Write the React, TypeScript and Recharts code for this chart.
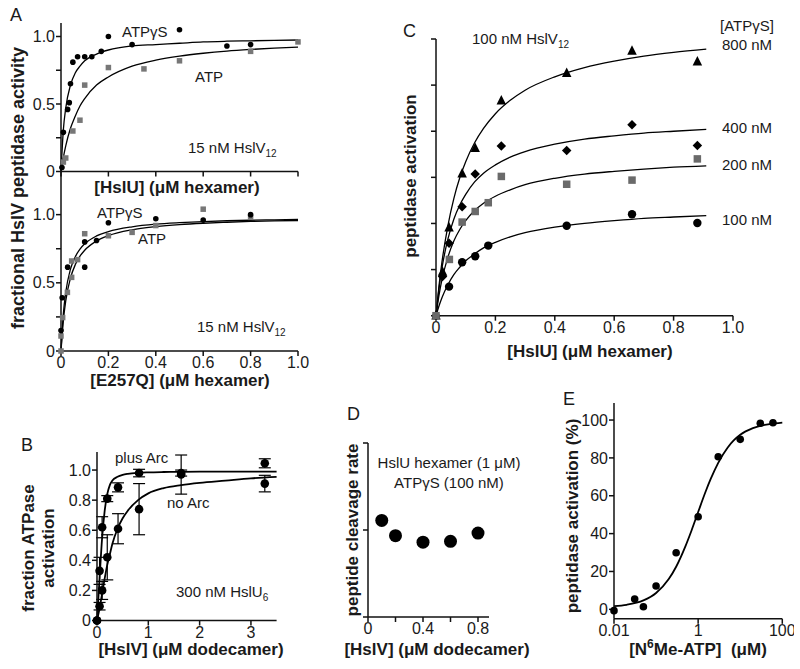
import { ComposedChart, Scatter, Line, XAxis, YAxis, ErrorBar } from 'recharts'

const FONT = '"Liberation Sans", Arial, Helvetica, sans-serif'

// ---- panel A, top: [HslU] ----
const aTopGsX = [0.004, 0.01, 0.028, 0.035, 0.04, 0.05, 0.07, 0.1, 0.13, 0.17, 0.2, 0.3, 0.5, 0.7, 0.8]
const aTopGsY = [0.03, 0.29, 0.46, 0.51, 0.65, 0.81, 0.85, 0.85, 0.85, 0.89, 1.0, 0.94, 1.05, 0.93, 0.94]
const aTopAtpX = [0.01, 0.02, 0.05, 0.08, 0.1, 0.2, 0.35, 0.5, 0.8, 1.0]
const aTopAtpY = [0.07, 0.1, 0.3, 0.38, 0.64, 0.77, 0.76, 0.82, 0.89, 0.96]
const aFitX = [0, 0.01, 0.02, 0.04, 0.06, 0.08, 0.1, 0.15, 0.2, 0.3, 0.4, 0.5, 0.6, 0.7, 0.8, 0.9, 1.0]
const aTopFitGs = [0, 0.31, 0.47, 0.64, 0.73, 0.78, 0.82, 0.87, 0.9, 0.93, 0.94, 0.95, 0.96, 0.965, 0.968, 0.971, 0.974]
const aTopFitAtp = [0, 0.105, 0.19, 0.32, 0.41, 0.485, 0.54, 0.64, 0.7, 0.78, 0.825, 0.855, 0.876, 0.892, 0.904, 0.914, 0.922]

// ---- panel A, bottom: [E257Q] ----
const aBotGsX = [0, 0.005, 0.028, 0.1, 0.1, 0.15, 0.2, 0.4, 0.6, 0.8]
const aBotGsY = [0.15, 0.39, 0.615, 0.8, 0.615, 0.81, 0.94, 0.97, 0.96, 1.0]
const aBotAtpX = [0, 0, 0.007, 0.027, 0.045, 0.045, 0.07, 0.1, 0.2, 0.3, 0.4, 0.6, 0.8]
const aBotAtpY = [0, 0.11, 0.245, 0.43, 0.54, 0.66, 0.67, 0.86, 0.845, 0.87, 0.92, 1.04, 0.98]
const aBotFitGs = [0, 0.275, 0.43, 0.6, 0.69, 0.747, 0.786, 0.844, 0.876, 0.911, 0.93, 0.941, 0.949, 0.955, 0.959, 0.962, 0.965]
const aBotFitAtp = [0, 0.225, 0.367, 0.535, 0.632, 0.695, 0.739, 0.807, 0.846, 0.889, 0.912, 0.927, 0.937, 0.944, 0.95, 0.954, 0.957]

// ---- panel C ----
const c800X = [0, 0.022, 0.044, 0.088, 0.132, 0.22, 0.44, 0.66, 0.88]
const c800Y = [0, 0.95, 1.91, 3.08, 3.63, 4.66, 5.26, 5.74, 5.51]
const c400X = [0, 0.022, 0.044, 0.088, 0.132, 0.22, 0.44, 0.66, 0.88]
const c400Y = [0, 0.85, 1.57, 2.36, 3.07, 3.68, 3.58, 4.14, 3.69]
const c200X = [0, 0.045, 0.088, 0.132, 0.176, 0.22, 0.44, 0.66, 0.88]
const c200Y = [0, 1.22, 2.03, 2.26, 2.45, 3.02, 2.85, 2.94, 3.4]
const c100X = [0.044, 0.088, 0.132, 0.176, 0.44, 0.66, 0.88]
const c100Y = [0.63, 1.16, 1.29, 1.52, 1.95, 2.2, 2.01]
const cFitX = [0, 0.01, 0.02, 0.04, 0.06, 0.08, 0.1, 0.13, 0.16, 0.2, 0.25, 0.3, 0.4, 0.5, 0.6, 0.7, 0.8, 0.91]
const c800Fit = [0, 0.64, 1.16, 1.95, 2.54, 2.99, 3.34, 3.75, 4.06, 4.38, 4.67, 4.89, 5.18, 5.38, 5.52, 5.63, 5.71, 5.78]
const c400Fit = [0, 0.58, 1.03, 1.66, 2.09, 2.4, 2.63, 2.9, 3.09, 3.27, 3.44, 3.56, 3.72, 3.83, 3.9, 3.96, 4.0, 4.04]
const c200Fit = [0, 0.44, 0.78, 1.27, 1.62, 1.87, 2.06, 2.28, 2.44, 2.59, 2.73, 2.84, 2.98, 3.07, 3.13, 3.18, 3.22, 3.25]
const c100Fit = [0, 0.21, 0.39, 0.67, 0.89, 1.05, 1.19, 1.34, 1.47, 1.59, 1.71, 1.8, 1.92, 2.0, 2.06, 2.11, 2.14, 2.17]

// ---- panel B ----
const bX = [0, 0.05, 0.1, 0.2, 0.41, 0.82, 1.64, 3.27]
const bPlusY = [0, 0.33, 0.62, 0.81, 0.885, 0.98, 0.98, 1.045]
const bPlusErr = [0, 0.09, 0.07, 0.02, 0.03, 0.025, 0.02, 0.03]
const bNoY = [0, 0.095, 0.2, 0.42, 0.61, 0.74, 0.97, 0.91]
const bNoErr = [0, 0.025, 0.06, 0.15, 0.1, 0.17, 0.13, 0.055]
const bFitX = [0, 0.025, 0.05, 0.1, 0.15, 0.2, 0.25, 0.3, 0.4, 0.5, 0.6, 0.8, 1.0, 1.3, 1.64, 2.0, 2.5, 3.0, 3.5]
const bPlusFit = [0, 0.14, 0.28, 0.55, 0.73, 0.84, 0.9, 0.93, 0.955, 0.968, 0.975, 0.982, 0.985, 0.987, 0.988, 0.989, 0.99, 0.99, 0.99]
const bNoFit = [0, 0.04, 0.08, 0.18, 0.28, 0.37, 0.44, 0.51, 0.61, 0.68, 0.73, 0.8, 0.845, 0.88, 0.9, 0.915, 0.93, 0.945, 0.955]

// ---- panel D ----
const dX = [0.1, 0.2, 0.4, 0.6, 0.8]
const dY = [1.11, 0.935, 0.86, 0.87, 0.965]

// ---- panel E ----
const eX = [0.01, 0.031, 0.05, 0.1, 0.3, 1.0, 3.0, 10, 30, 60]
const eY = [-0.7, 5.4, 1.4, 12.3, 29.9, 48.9, 80.6, 89.8, 98.3, 98.6]
const eFitX = [0.01, 0.02, 0.05, 0.1, 0.2, 0.3, 0.5, 0.7, 1, 1.5, 2, 3, 5, 7, 10, 20, 50, 100]
const eFit = [1.7, 2.4, 4.7, 8.6, 16, 22.5, 33.4, 41.8, 51.4, 62.1, 69, 77.4, 85.4, 89.2, 92.2, 95.7, 97.8, 98.6]

const pts = (xs: number[], ys: number[], es?: number[]) =>
  xs.map((x, i) => (es ? { x, y: ys[i], e: es[i] } : { x, y: ys[i] }))

const tickStyle = { fontSize: 16, fill: '#1a1a1a', fontFamily: FONT }
const one = (v: number) => (v === 0 ? '0' : v.toFixed(1))

type Box = { l: number; r: number; t: number; b: number }

function Plot({ box, xDomain, yDomain, xTicks, yTicks, xFmt, yFmt, xLog, children }: any) {
  const YW = 48, XH = 30, P = 12
  const b: Box = box
  return (
    <div style={{ position: 'absolute', left: b.l - YW, top: b.t - P }}>
      <ComposedChart
        width={b.r - b.l + YW + P}
        height={b.b - b.t + P + XH}
        margin={{ top: P, right: P, bottom: 0, left: 0 }}
      >
        <XAxis
          type="number" dataKey="x" scale={xLog ? 'log' : 'auto'} domain={xDomain} ticks={xTicks}
          tickFormatter={xFmt} interval={0} height={XH} stroke="#111" strokeWidth={1.5}
          tickSize={5} tickMargin={1} tick={tickStyle}
        />
        <YAxis
          type="number" dataKey="y" domain={yDomain} ticks={yTicks} tickFormatter={yFmt}
          interval={0} width={YW} stroke="#111" strokeWidth={1.5} tickSize={5} tickMargin={1} tick={tickStyle}
        />
        {children}
      </ComposedChart>
    </div>
  )
}

const dot = (r: number, fill = '#000') => (p: any) => <circle cx={p.cx} cy={p.cy} r={r} fill={fill} />
const square = (s: number, fill: string) => (p: any) => (
  <rect x={p.cx - s / 2} y={p.cy - s / 2} width={s} height={s} fill={fill} />
)
const triangle = (s: number) => (p: any) => (
  <polygon points={`${p.cx},${p.cy - s * 0.6} ${p.cx - s / 2},${p.cy + s * 0.4} ${p.cx + s / 2},${p.cy + s * 0.4}`} fill="#000" />
)
const diamond = (s: number) => (p: any) => (
  <polygon points={`${p.cx},${p.cy - s / 2} ${p.cx + s / 2},${p.cy} ${p.cx},${p.cy + s / 2} ${p.cx - s / 2},${p.cy}`} fill="#000" />
)

const fit = (xs: number[], ys: number[], w = 1.3) => (
  <Line data={pts(xs, ys)} dataKey="y" type="monotone" dot={false} activeDot={false}
    stroke="#000" strokeWidth={w} isAnimationActive={false} />
)

const GRAY = '#777'

export default function App() {
  const aYFmt = (v: number) => (v === 0 ? '0' : v === 0.5 || v === 1 ? v.toFixed(1) : '')
  const aXT = [0, 0.2, 0.4, 0.6, 0.8, 1.0]
  const aYT = [0, 0.25, 0.5, 0.75, 1.0]
  const T = (props: any) => <text fontFamily={FONT} fill="#1a1a1a" fontSize={15} {...props} />
  const B = (props: any) => <text fontFamily={FONT} fill="#1a1a1a" fontSize={17} fontWeight="bold" {...props} />
  const R = ({ x, y, children, ...rest }: any) => (
    <text fontFamily={FONT} fill="#1a1a1a" fontSize={17} fontWeight="bold" textAnchor="middle"
      dominantBaseline="central" transform={`translate(${x},${y}) rotate(-90)`} {...rest}>{children}</text>
  )

  return (
    <div style={{ position: 'absolute', left: 0, top: 0, width: 800, height: 669, background: '#fff', fontFamily: FONT }}>
      {/* A top */}
      <Plot box={{ l: 61, r: 298, t: 22.5, b: 171 }} xDomain={[0, 1]} yDomain={[0, 1.1]}
        xTicks={aXT} yTicks={aYT} xFmt={() => ''} yFmt={aYFmt}>
        {fit(aFitX, aTopFitGs)}
        {fit(aFitX, aTopFitAtp)}
        <Scatter data={pts(aTopAtpX, aTopAtpY)} dataKey="y" shape={square(5.5, GRAY)} isAnimationActive={false} />
        <Scatter data={pts(aTopGsX, aTopGsY)} dataKey="y" shape={dot(2.8)} isAnimationActive={false} />
      </Plot>

      {/* A bottom */}
      <Plot box={{ l: 61, r: 298, t: 171, b: 351 }} xDomain={[0, 1]} yDomain={[0, 1.32]}
        xTicks={aXT} yTicks={aYT} xFmt={one} yFmt={aYFmt}>
        {fit(aFitX, aBotFitGs)}
        {fit(aFitX, aBotFitAtp)}
        <Scatter data={pts(aBotAtpX, aBotAtpY)} dataKey="y" shape={square(5.5, GRAY)} isAnimationActive={false} />
        <Scatter data={pts(aBotGsX, aBotGsY)} dataKey="y" shape={dot(2.8)} isAnimationActive={false} />
      </Plot>

      {/* C */}
      <Plot box={{ l: 436, r: 733, t: 39, b: 315.7 }} xDomain={[0, 1]} yDomain={[0, 6]}
        xTicks={aXT} yTicks={[0, 1, 2, 3, 4, 5, 6]} xFmt={one} yFmt={() => ''}>
        {fit(cFitX, c800Fit)}
        {fit(cFitX, c400Fit)}
        {fit(cFitX, c200Fit)}
        {fit(cFitX, c100Fit)}
        <Scatter data={pts(c800X, c800Y)} dataKey="y" shape={triangle(9.5)} isAnimationActive={false} />
        <Scatter data={pts(c400X, c400Y)} dataKey="y" shape={diamond(9.5)} isAnimationActive={false} />
        <Scatter data={pts(c100X, c100Y)} dataKey="y" shape={dot(4.2)} isAnimationActive={false} />
        <Scatter data={pts(c200X, c200Y)} dataKey="y" shape={square(7.5, '#6a6a6a')} isAnimationActive={false} />
      </Plot>

      {/* B */}
      <Plot box={{ l: 96.7, r: 276.3, t: 452, b: 620.5 }} xDomain={[0, 3.5]} yDomain={[0, 1.12]}
        xTicks={[0, 1, 2, 3]} yTicks={[0, 0.2, 0.4, 0.6, 0.8, 1.0]} xFmt={(v: number) => String(v)} yFmt={one}>
        {fit(bFitX, bPlusFit, 1.8)}
        {fit(bFitX, bNoFit, 1.8)}
        <Scatter data={pts(bX, bNoY, bNoErr)} dataKey="y" shape={dot(4.3)} isAnimationActive={false}>
          <ErrorBar dataKey="e" direction="y" width={6} stroke="#000" strokeWidth={1.2} isAnimationActive={false} />
        </Scatter>
        <Scatter data={pts(bX, bPlusY, bPlusErr)} dataKey="y" shape={dot(4.3)} isAnimationActive={false}>
          <ErrorBar dataKey="e" direction="y" width={6} stroke="#000" strokeWidth={1.2} isAnimationActive={false} />
        </Scatter>
      </Plot>

      {/* D */}
      <Plot box={{ l: 367.7, r: 488.7, t: 443.3, b: 617.3 }} xDomain={[0, 0.88]} yDomain={[0, 2]}
        xTicks={[0, 0.2, 0.4, 0.6, 0.8]} yTicks={[0, 1, 2]}
        xFmt={(v: number) => (v === 0 ? '0' : v === 0.4 || v === 0.8 ? v.toFixed(1) : '')} yFmt={() => ''}>
        <Scatter data={pts(dX, dY)} dataKey="y" shape={dot(6.5)} isAnimationActive={false} />
      </Plot>

      {/* E */}
      <Plot box={{ l: 614, r: 782.3, t: 403, b: 618.8 }} xDomain={[0.01, 100]} yDomain={[-5, 109]} xLog
        xTicks={[0.01, 1, 100]} yTicks={[0, 20, 40, 60, 80, 100]} xFmt={(v: number) => String(v)} yFmt={(v: number) => String(v)}>
        {fit(eFitX, eFit, 1.8)}
        <Scatter data={pts(eX, eY)} dataKey="y" shape={dot(3.8)} isAnimationActive={false} />
      </Plot>

      <svg width={800} height={669} style={{ position: 'absolute', left: 0, top: 0, pointerEvents: 'none' }}>
        {/* panel letters */}
        <T x={10} y={21} fontSize={18}>A</T>
        <T x={403} y={37} fontSize={18}>C</T>
        <T x={21} y={451} fontSize={18}>B</T>
        <T x={347} y={420} fontSize={18}>D</T>
        <T x={563} y={405} fontSize={18}>E</T>

        {/* A annotations */}
        <T x={122} y={37}>ATPγS</T>
        <T x={195} y={82}>ATP</T>
        <T x={188} y={153}>15 nM HslV<tspan fontSize={10} dy={4}>12</tspan></T>
        <T x={97} y={218}>ATPγS</T>
        <T x={138} y={244}>ATP</T>
        <T x={197} y={332}>15 nM HslV<tspan fontSize={10} dy={4}>12</tspan></T>
        <B x={177} y={193} textAnchor="middle">[HslU] (μM hexamer)</B>
        <B x={180} y={386} textAnchor="middle">[E257Q] (μM hexamer)</B>
        <R x={18} y={188} fontSize={18}>fractional HslV peptidase activity</R>

        {/* C annotations */}
        <T x={472} y={44}>100 nM HslV<tspan fontSize={10} dy={4}>12</tspan></T>
        <T x={720} y={31}>[ATPγS]</T>
        <T x={722} y={50}>800 nM</T>
        <T x={722} y={133}>400 nM</T>
        <T x={722} y={170}>200 nM</T>
        <T x={722} y={225}>100 nM</T>
        <B x={590} y={357} textAnchor="middle">[HslU] (μM hexamer)</B>
        <R x={410} y={176}>peptidase activation</R>

        {/* B annotations */}
        <T x={115} y={463}>plus Arc</T>
        <T x={167} y={508}>no Arc</T>
        <T x={176} y={597}>300 nM HslU<tspan fontSize={10} dy={4}>6</tspan></T>
        <B x={191} y={655} textAnchor="middle">[HslV] (μM dodecamer)</B>
        <R x={28} y={548}>fraction ATPase</R>
        <R x={48} y={548}>activation</R>

        {/* D annotations */}
        <T x={449} y={468} textAnchor="middle">HslU hexamer (1 μM)</T>
        <T x={449} y={488} textAnchor="middle">ATPγS (100 nM)</T>
        <B x={437} y={655} textAnchor="middle">[HslV] (μM dodecamer)</B>
        <R x={352} y={530}>peptide cleavage rate</R>

        {/* E annotations */}
        <B x={698} y={655} textAnchor="middle">[N<tspan fontSize={12} dy={-7}>6</tspan><tspan dy={7}>Me-ATP]{'\u00a0 '}(μM)</tspan></B>
        <R x={572} y={516}>peptidase activation (%)</R>
      </svg>
    </div>
  )
}
